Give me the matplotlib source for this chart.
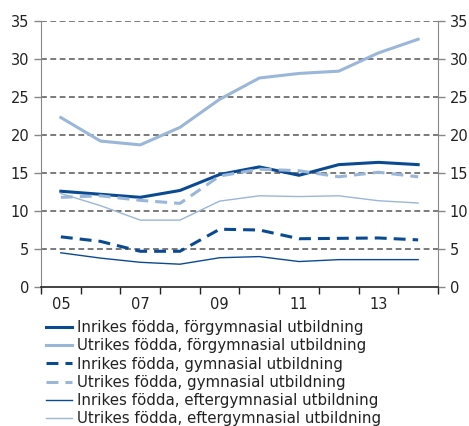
import matplotlib.pyplot as plt
from matplotlib.ticker import MultipleLocator, FixedLocator, NullFormatter

plt.rcParams["font.family"] = ["DejaVu Sans"]

years = list(range(2005, 2015))
tick_labels = ["05", "07", "09", "11", "13"]

inrikes_forgym = [12.6, 12.2, 11.8, 12.7, 14.8, 15.8, 14.7, 16.1, 16.4, 16.1]
utrikes_forgym = [22.3, 19.2, 18.7, 21.0, 24.7, 27.5, 28.1, 28.4, 30.8, 32.6]
inrikes_gym = [6.6, 6.0, 4.7, 4.7, 7.6, 7.5, 6.35, 6.4, 6.45, 6.2]
utrikes_gym = [11.8, 12.0, 11.4, 11.0, 14.6, 15.5, 15.3, 14.5, 15.1, 14.5]
inrikes_eftergym = [4.5, 3.8, 3.25, 3.0, 3.85, 4.0, 3.35, 3.6, 3.6, 3.6]
utrikes_eftergym = [12.3, 10.7, 8.8, 8.8, 11.3, 12.0, 11.9, 12.0, 11.35, 11.05]

DARK = "#0a4a92"
LIGHT = "#9ab6d8"
DASH = (0, (3.9, 2.3))


def main():
    fig = plt.figure(figsize=(4.69, 4.26), dpi=100)
    ax = fig.add_axes([0.0874, 0.3263, 0.8465, 0.6244])
    x = list(range(len(years)))

    ax.plot(x, inrikes_forgym, color=DARK, lw=2.2,
            label="Inrikes födda, förgymnasial utbildning")
    ax.plot(x, utrikes_forgym, color=LIGHT, lw=2.2,
            label="Utrikes födda, förgymnasial utbildning")
    ax.plot(x, inrikes_gym, color=DARK, lw=2.2, ls=DASH,
            label="Inrikes födda, gymnasial utbildning")
    ax.plot(x, utrikes_gym, color=LIGHT, lw=2.2, ls=DASH,
            label="Utrikes födda, gymnasial utbildning")
    ax.plot(x, inrikes_eftergym, color=DARK, lw=1.0,
            label="Inrikes födda, eftergymnasial utbildning")
    ax.plot(x, utrikes_eftergym, color=LIGHT, lw=1.0,
            label="Utrikes födda, eftergymnasial utbildning")

    ax.set_xlim(-0.5, len(years) - 0.5)
    ax.set_ylim(0, 35)
    ax.yaxis.set_major_locator(MultipleLocator(5))

    # category axis: tick marks between years, labels every other year
    ax.xaxis.set_major_locator(FixedLocator([i for i in range(0, len(years), 2)]))
    ax.set_xticklabels(tick_labels)
    ax.xaxis.set_minor_locator(FixedLocator([i - 0.5 for i in range(len(years) + 1)]))
    ax.xaxis.set_minor_formatter(NullFormatter())
    ax.tick_params(axis="x", which="major", length=0, labelsize=10.5, pad=7, colors="#222222")
    ax.tick_params(axis="x", which="minor", length=5, width=1, color="#222222", direction="out")
    ax.tick_params(axis="y", length=5, width=1, color="#888888", labelsize=10.5,
                   left=True, right=True, labelleft=True, labelright=True,
                   labelcolor="#222222", direction="out")

    for y in range(5, 36, 5):
        ax.axhline(y, color="#7a7a7a", lw=1.4, ls=(0, (3, 1.8)), zorder=0)

    ax.spines["top"].set_visible(False)
    ax.spines["left"].set_color("#888888")
    ax.spines["right"].set_color("#888888")
    ax.spines["bottom"].set_color("#222222")
    ax.spines["bottom"].set_linewidth(1.2)

    handles, labels = ax.get_legend_handles_labels()
    fig.legend(handles, labels, loc="upper left", bbox_to_anchor=(0.098, 0.249),
               frameon=False, fontsize=10.8, handlelength=1.75, handletextpad=0.35,
               labelspacing=0.22, borderaxespad=0, borderpad=0, labelcolor="#222222")

    fig.savefig("out.png", dpi=100)
    plt.close(fig)


if __name__ == "__main__":
    main()
